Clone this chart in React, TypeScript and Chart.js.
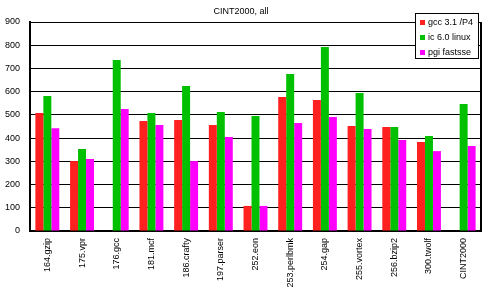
import React, { useEffect, useRef } from "react";
import { Chart, registerables } from "chart.js";

Chart.register(...registerables);

const categories = [
  "164.gzip", "175.vpr", "176.gcc", "181.mcf", "186.crafty", "197.parser",
  "252.eon", "253.perlbmk", "254.gap", "255.vortex", "256.bzip2", "300.twolf", "CINT2000",
];
const gccValues = [508, 301, null, 474, 478, 456, 108, 577, 564, 452, 448, 383, null];
const iccValues = [581, 353, 736, 508, 624, 512, 495, 676, 792, 594, 448, 409, 547];
const pgiValues = [443, 310, 525, 456, 301, 405, 108, 465, 491, 439, 392, 344, 366];
const seriesLabels = ["gcc 3.1 /P4", "ic 6.0 linux", "pgi fastsse"];
const seriesColors = ["#ff2020", "#00c000", "#ff00ff"];
const titleText = "CINT2000, all";

const FONT = "Liberation Sans, Arial, sans-serif";
const FSIZE = 9;

const overlayPlugin = {
  id: "overlay",
  afterDraw(chart: any) {
    const ctx = chart.ctx;
    const a = chart.chartArea;
    ctx.save();
    // right border
    ctx.strokeStyle = "#000";
    ctx.lineWidth = 2;
    ctx.beginPath();
    ctx.moveTo(a.right, a.top);
    ctx.lineTo(a.right, a.bottom + 1);
    ctx.stroke();
    // title
    ctx.fillStyle = "#000";
    ctx.font = `${FSIZE}px ${FONT}`;
    ctx.textAlign = "center";
    ctx.textBaseline = "middle";
    ctx.fillText(titleText, 241, 12);
    // legend
    const bx = 415.5, by = 13.5, bw = 63, bh = 45;
    ctx.fillStyle = "#fff";
    ctx.fillRect(bx, by, bw, bh);
    ctx.lineWidth = 1;
    ctx.strokeStyle = "#000";
    ctx.strokeRect(bx, by, bw, bh);
    ctx.textAlign = "left";
    const rows = [22.5, 37, 52];
    chart.data.datasets.forEach((ds: any, i: number) => {
      ctx.fillStyle = ds.backgroundColor;
      ctx.fillRect(420, Math.round(rows[i] - 2.5), 5, 5);
      ctx.fillStyle = "#000";
      ctx.fillText(ds.label, 428, rows[i] + 0.5);
    });
    ctx.restore();
  },
};

export default function App() {
  const ref = useRef<HTMLCanvasElement | null>(null);
  useEffect(() => {
    if (!ref.current) return;
    Chart.defaults.font.family = FONT;
    Chart.defaults.font.size = FSIZE;
    Chart.defaults.color = "#000";
    const chart = new Chart(ref.current, {
      type: "bar",
      data: {
        labels: categories,
        datasets: [gccValues, iccValues, pgiValues].map((d, i) => ({
          label: seriesLabels[i],
          data: d,
          backgroundColor: seriesColors[i],
          borderWidth: 0,
          categoryPercentage: 0.69,
          barPercentage: 1,
        })),
      },
      options: {
        animation: false,
        responsive: false,
        maintainAspectRatio: false,
        layout: { padding: { top: 22, right: 4, left: 0, bottom: 0 } },
        plugins: { legend: { display: false }, title: { display: false }, tooltip: { enabled: false } },
        scales: {
          x: {
            grid: { display: false, drawTicks: false },
            border: { display: true, color: "#000", width: 2 },
            ticks: { minRotation: 90, maxRotation: 90, padding: 7, autoSkip: false, color: "#000", font: { size: FSIZE, family: FONT } },
            afterFit: (s: any) => { s.height = 69; },
          },
          y: {
            min: 0,
            max: 900,
            ticks: { stepSize: 100, padding: 10, color: "#000", font: { size: FSIZE, family: FONT } },
            grid: { color: "#000", lineWidth: 1, drawTicks: false },
            border: { display: true, color: "#000", width: 2 },
            afterFit: (s: any) => { s.width = 30; },
          },
        },
      },
      plugins: [overlayPlugin],
    });
    return () => chart.destroy();
  }, []);
  return (
    <div style={{ position: "fixed", left: 0, top: 0, width: 485, height: 300, background: "#fff" }}>
      <canvas ref={ref} width={485} height={300} style={{ width: 485, height: 300 }} />
    </div>
  );
}
